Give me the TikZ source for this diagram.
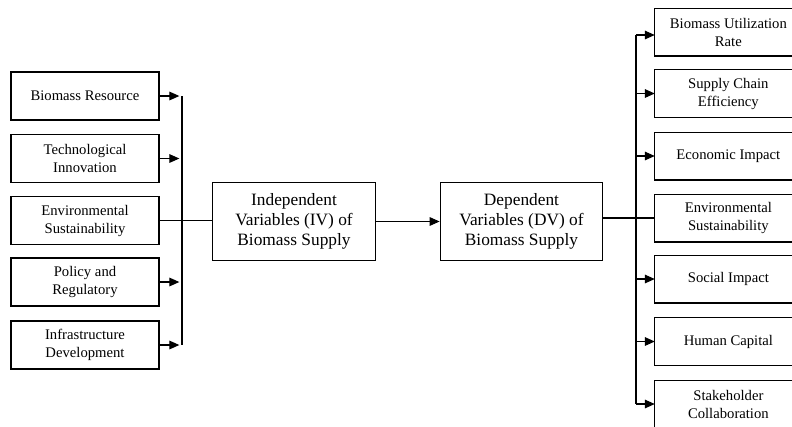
\documentclass[tikz,border=0pt]{standalone}
\usepackage{fontspec}
\setmainfont{Liberation Serif}
\usetikzlibrary{arrows.meta}
\begin{document}
\begin{tikzpicture}[x=0.75pt,y=-0.75pt,
  box/.style={draw,line width=0.85pt,align=center,inner sep=1pt,font=\fontsize{11}{13.5}\selectfont},
  lbox/.style={box,minimum width=111pt,minimum height=36pt},
  rbox/.style={align=center,inner sep=1pt,font=\fontsize{11}{13.5}\selectfont,minimum width=130pt,minimum height=35.5pt},
  ropen/.style={line width=0.85pt},
  cbox/.style={box,minimum width=122pt,minimum height=59pt,font=\fontsize{13}{15}\selectfont},
  conn/.style={line width=0.8pt},
  arr/.style={conn,-{Triangle[length=7.5pt,width=6.5pt]}}]
\useasboundingbox (0,0) rectangle (792,426);
\clip (0,0) rectangle (792,426);
% left boxes
\node[lbox] (l1) at (85,96) {Biomass Resource};
\node[lbox] (l2) at (85,158.5) {Technological\\Innovation};
\node[lbox] (l3) at (85,220.5) {Environmental\\Sustainability};
\node[lbox] (l4) at (85,282) {Policy and\\Regulatory};
\node[lbox] (l5) at (85,345) {Infrastructure\\Development};
% center boxes
\node[cbox] (iv) at (294,221.5) {Independent\\Variables (IV) of\\Biomass Supply};
\node[cbox] (dv) at (521.5,221.5) {Dependent\\Variables (DV) of\\Biomass Supply};
% right boxes (their right side lies beyond the picture edge)
\node[rbox] (r1) at (741.7,32) {\hspace*{-20pt}Biomass Utilization\\\hspace*{-20pt}Rate};
\node[rbox] (r2) at (741.7,93.5) {\hspace*{-20pt}Supply Chain\\\hspace*{-20pt}Efficiency};
\node[rbox] (r3) at (741.7,156) {\hspace*{-20pt}Economic Impact};
\node[rbox] (r4) at (741.7,218) {\hspace*{-20pt}Environmental\\\hspace*{-20pt}Sustainability};
\node[rbox] (r5) at (741.7,279) {\hspace*{-20pt}Social Impact};
\node[rbox] (r6) at (741.7,341.5) {\hspace*{-20pt}Human Capital};
\node[rbox] (r7) at (741.7,404) {\hspace*{-20pt}Stakeholder\\\hspace*{-20pt}Collaboration};
\foreach \r in {r1,r2,r3,r4,r5,r6,r7}
  \draw[ropen] (\r.north east) -- (\r.north west) -- (\r.south west) -- (\r.south east);
% left bus
\coordinate (lbt) at (182,96);
\coordinate (lbb) at (182,345);
\draw[conn] (lbt) -- (lbb);
\draw[arr] (l1.east) -- ([xshift=-2pt]l1.east -| lbt);
\draw[arr] (l2.east) -- ([xshift=-2pt]l2.east -| lbt);
\draw[arr] (l4.east) -- ([xshift=-2pt]l4.east -| lbt);
\draw[arr] (l5.east) -- ([xshift=-2pt]l5.east -| lbt);
\draw[conn] (l3.east) -- (l3.east -| iv.west);
% center
\draw[arr] (iv.east) -- (dv.west);
% right bus
\coordinate (rbt) at (636,35);
\coordinate (rbb) at (636,404);
\draw[conn] (rbt) -- (rbb);
\draw[conn] (dv.east |- r4.west) -- (r4.west);
\draw[arr] (rbt) -- (rbt -| r1.west);
\draw[arr] (r2.west -| rbt) -- (r2.west);
\draw[arr] (r3.west -| rbt) -- (r3.west);
\draw[arr] (r5.west -| rbt) -- (r5.west);
\draw[arr] (r6.west -| rbt) -- (r6.west);
\draw[arr] (rbb) -- (r7.west);
\end{tikzpicture}
\end{document}
